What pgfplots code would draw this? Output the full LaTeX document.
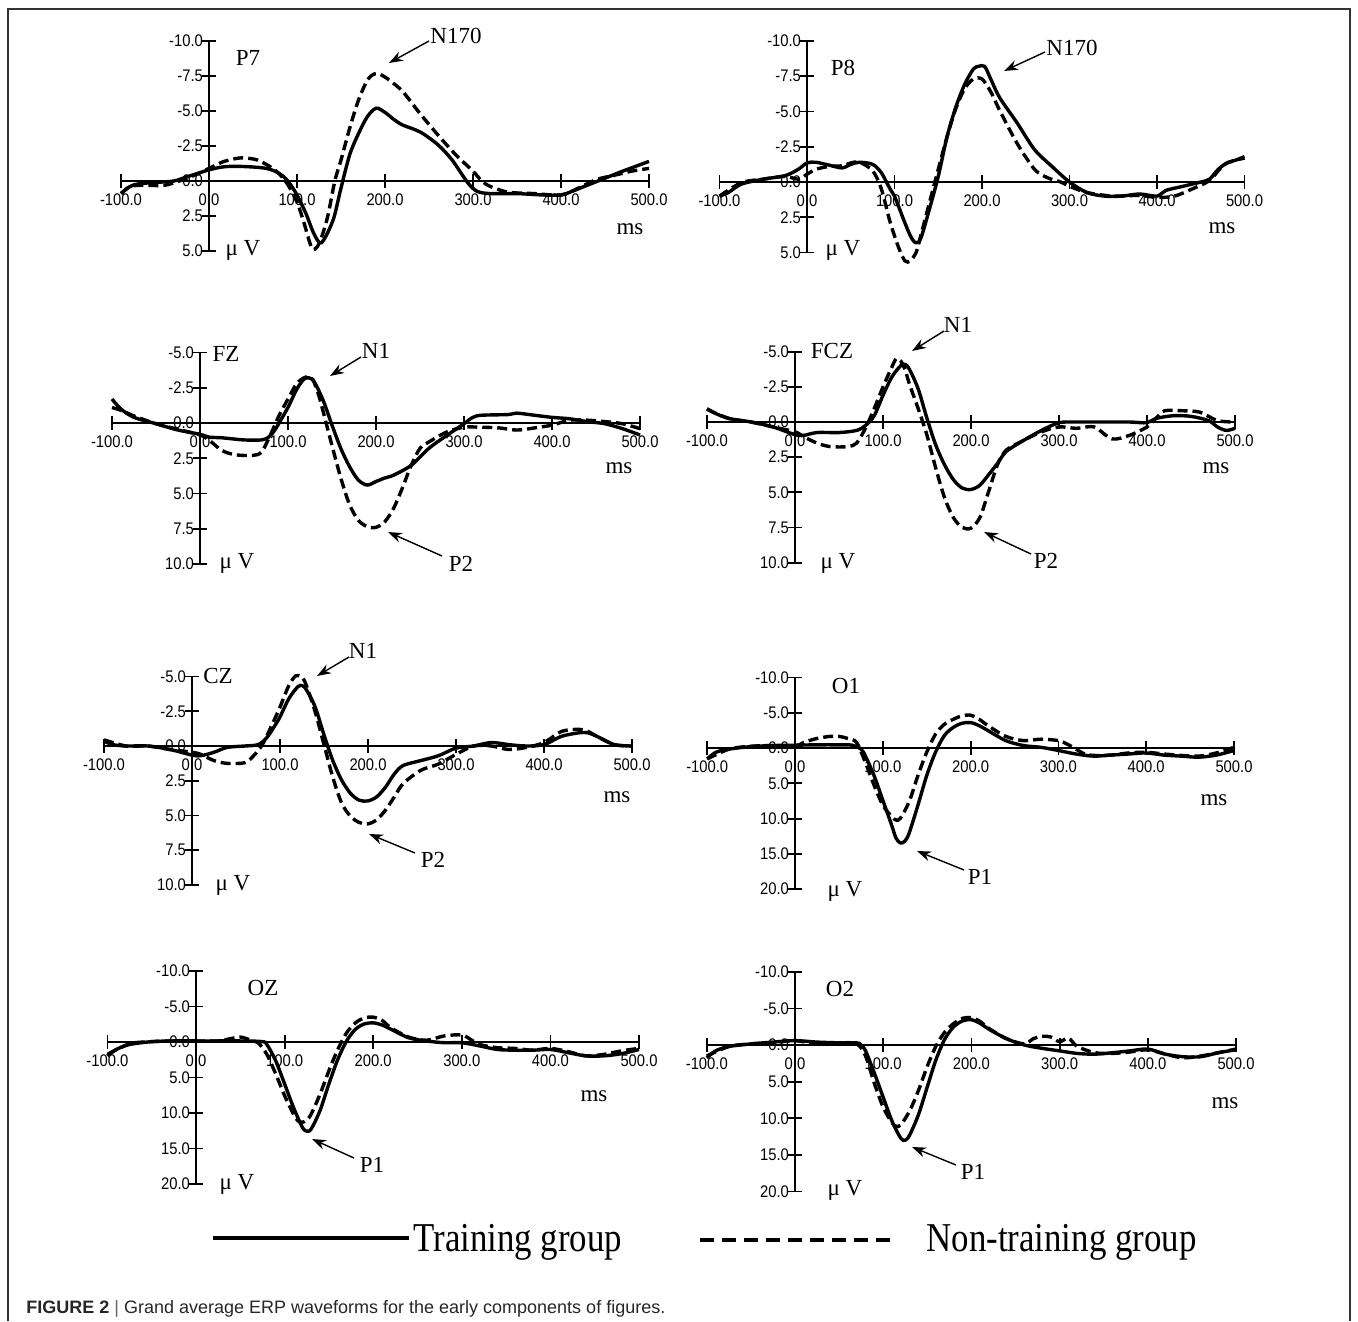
\documentclass[border=0pt]{standalone}
\usepackage{fontspec}
\setmainfont{Liberation Serif}
\setsansfont{Liberation Sans}
\newfontfamily\tickfont{Liberation Sans}[FakeStretch=0.88]
\usepackage{pgfplots}
\pgfplotsset{compat=1.18}
\usetikzlibrary{arrows.meta}

\pgfplotsset{
 erp/.style={
  axis lines=middle,
  axis line style={-, line width=1pt, black},
  anchor=origin,
  enlargelimits=false,
  clip=false,
  y dir=reverse,
  xmin=-100, xmax=500,
  xtick={-100,0,100,200,300,400,500},
  xticklabels={-100.0,0.0,100.0,200.0,300.0,400.0,500.0},
  hide obscured x ticks=false, hide obscured y ticks=false,
  tick align=center,
  major tick length=7pt,
  major tick style={line width=0.9pt, black},
  tick label style={font=\tickfont\fontsize{8.4}{9}\selectfont},
  xticklabel style={anchor=north, yshift=0.8pt},
  yticklabel style={anchor=east, xshift=4pt},
 },
 train/.style={black, line width=1.7pt, smooth},
 nontrain/.style={black, line width=1.7pt, smooth, dash pattern=on 5pt off 2.5pt},
 pA/.style={ymin=-10, ymax=5, ytick={-10,-7.5,-5,-2.5,0,2.5,5}, yticklabels={-10.0,-7.5,-5.0,-2.5,0.0,2.5,5.0}},
 pB/.style={ymin=-5, ymax=10, ytick={-5,-2.5,0,2.5,5,7.5,10}, yticklabels={-5.0,-2.5,0.0,2.5,5.0,7.5,10.0}},
 pC/.style={ymin=-10, ymax=20, ytick={-10,-5,0,5,10,15,20}, yticklabels={-10.0,-5.0,0.0,5.0,10.0,15.0,20.0}},
}

\begin{document}
\begin{tikzpicture}
\useasboundingbox (0,0) rectangle (679pt,-660.5pt);

% ---------------- P7 ----------------
\begin{axis}[erp, pA, at={(104.5pt,-90.5pt)}, x=0.44pt, y=7pt]
\addplot[train] table {
-100 0.9
-90 0.4
-80 0.2
-60 0.1
-40 0.0
-25 -0.3
-10 -0.6
0 -0.8
15 -1.0
30 -1.05
50 -1.0
65 -0.9
75 -0.7
85 -0.3
92 0.2
100 1.0
110 2.3
118 3.6
124 4.3
128 4.4
134 3.8
142 2.6
150 0.5
160 -1.9
170 -3.4
180 -4.6
190 -5.2
200 -4.9
210 -4.4
220 -4.0
240 -3.5
260 -2.6
275 -1.6
285 -0.7
295 0.2
305 0.75
320 0.9
350 0.9
380 1.0
400 1.0
410 0.8
430 0.3
450 -0.2
470 -0.7
500 -1.4
};
\addplot[nontrain] table {
-100 0.9
-90 0.4
-75 0.3
-50 0.3
-25 -0.2
-10 -0.6
0 -0.9
15 -1.35
30 -1.6
40 -1.65
55 -1.5
70 -1.0
80 -0.5
90 0.3
100 1.5
108 3.0
114 4.3
118 4.9
123 4.7
128 4.0
135 2.5
143 0.0
150 -1.5
160 -3.8
170 -5.8
180 -7.2
188 -7.65
195 -7.6
205 -7.2
220 -6.4
240 -4.8
260 -3.3
280 -1.9
300 -0.7
310 0.0
320 0.4
340 0.8
370 0.9
400 1.0
420 0.5
440 -0.1
460 -0.4
480 -0.7
500 -0.9
};
\end{axis}

% ---------------- P8 ----------------
\begin{axis}[erp, pA, at={(403.5pt,-91pt)}, x=0.4375pt, y=7.05pt]
\addplot[train] table {
-100 1.0
-90 0.75
-75 0.15
-50 -0.2
-25 -0.45
-10 -0.9
0 -1.35
10 -1.4
25 -1.2
40 -1.0
50 -1.25
60 -1.4
75 -1.25
85 -0.65
95 0.5
100 1.0
110 2.6
118 3.8
124 4.3
130 4.0
140 1.9
150 -0.4
160 -3.2
170 -5.3
180 -6.9
190 -8.0
196 -8.2
203 -8.2
210 -7.3
220 -6.0
240 -4.2
260 -2.3
280 -1.1
300 0.0
320 0.75
340 1.0
360 1.0
380 0.85
400 1.0
410 0.6
430 0.3
450 0.0
460 -0.2
470 -0.9
480 -1.35
490 -1.55
500 -1.8
};
\addplot[nontrain] table {
-100 1.0
-75 0.05
-50 -0.2
-25 -0.4
-10 -0.2
0 -0.55
10 -0.9
25 -1.1
40 -1.15
50 -1.35
60 -1.4
75 -0.8
85 0.5
95 2.85
105 4.7
112 5.6
118 5.6
125 4.95
130 3.8
140 1.45
150 -0.9
160 -3.2
170 -5.2
180 -6.6
190 -7.3
200 -7.3
210 -6.4
220 -5.1
240 -2.75
260 -0.9
275 -0.3
290 0.0
300 0.3
320 0.75
350 1.0
380 0.95
400 1.1
420 1.0
440 0.5
460 -0.1
470 -0.8
480 -1.35
500 -1.7
};
\end{axis}

% ---------------- FZ ----------------
\begin{axis}[erp, pB, at={(100pt,-211.5pt)}, x=0.44pt, y=7.05pt]
\addplot[train] table {
-100 -1.7
-90 -1.0
-75 -0.4
-50 0.05
-25 0.5
0 0.8
10 1.0
25 1.05
50 1.2
70 1.2
78 1.0
85 0.5
95 -0.55
100 -1.1
110 -2.4
118 -3.1
124 -3.2
130 -2.9
140 -1.6
150 0.15
160 1.8
170 3.1
180 4.05
190 4.4
200 4.15
210 3.9
220 3.7
240 3.0
260 1.8
280 0.9
300 0.05
310 -0.4
320 -0.55
350 -0.6
360 -0.7
380 -0.55
400 -0.4
420 -0.3
440 -0.1
460 0.05
480 0.4
500 0.85
};
\addplot[nontrain] table {
-100 -1.1
-90 -0.9
-75 -0.5
-50 0.05
-25 0.45
0 0.85
10 1.2
25 1.95
40 2.25
60 2.3
70 2.05
80 0.85
90 -0.55
100 -1.7
110 -2.8
120 -3.25
128 -3.1
135 -1.95
140 -0.8
150 1.6
160 3.9
170 5.8
180 6.9
190 7.35
200 7.4
210 7.0
220 6.05
230 4.6
240 3.0
250 1.8
260 1.35
280 0.65
300 0.3
320 0.3
340 0.35
360 0.5
380 0.35
400 0.15
420 -0.2
440 -0.2
460 -0.1
480 0.05
500 0.4
};
\end{axis}

% ---------------- FCZ ----------------
\begin{axis}[erp, pB, at={(397.5pt,-211pt)}, x=0.44pt, y=7.03pt]
\addplot[train] table {
-100 -0.95
-90 -0.6
-75 -0.25
-50 0.0
-25 0.35
0 0.9
10 0.95
25 0.75
50 0.75
70 0.6
80 0.25
90 -0.45
100 -1.9
110 -3.2
120 -4.0
125 -4.1
130 -3.75
140 -2.35
150 -0.25
160 1.65
170 3.05
180 4.1
190 4.7
200 4.8
210 4.5
220 3.75
230 2.95
240 2.1
260 1.3
280 0.6
300 0.05
320 0.0
350 0.0
380 0.0
400 0.05
410 -0.25
430 -0.45
450 -0.4
470 -0.1
480 0.35
490 0.6
500 0.45
};
\addplot[nontrain] table {
-100 -0.9
-75 -0.25
-50 0.0
-25 0.35
0 0.7
10 1.05
25 1.5
40 1.75
60 1.75
70 1.5
80 0.45
90 -0.95
100 -2.5
110 -3.9
115 -4.5
120 -4.35
125 -3.75
130 -2.7
140 -0.95
150 0.95
160 3.3
170 5.4
180 6.8
190 7.5
200 7.55
210 6.8
220 4.95
230 3.05
240 2.0
260 1.3
280 0.7
300 0.35
320 0.45
340 0.35
360 1.2
380 0.95
400 0.35
410 -0.25
420 -0.8
440 -0.8
460 -0.7
480 -0.1
500 0.0
};
\end{axis}

% ---------------- CZ ----------------
\begin{axis}[erp, pB, at={(96pt,-373pt)}, x=0.44pt, y=6.95pt]
\addplot[train] table {
-100 -0.35
-90 -0.1
-75 0.0
-50 0.0
-25 0.25
0 0.65
10 0.7
25 0.45
40 0.1
60 0.0
75 -0.1
85 -0.6
95 -1.55
100 -2.1
110 -3.4
120 -4.25
125 -4.35
130 -4.05
140 -2.8
150 -0.8
160 1.05
170 2.45
180 3.4
190 3.9
200 3.95
210 3.65
220 2.95
230 2.0
240 1.4
260 1.05
280 0.7
300 0.15
320 0.0
340 -0.25
360 -0.1
380 0.0
400 -0.1
420 -0.7
440 -0.95
450 -0.95
460 -0.7
480 -0.1
500 0.0
};
\addplot[nontrain] table {
-100 -0.45
-75 0.0
-50 0.0
-25 0.25
0 0.45
10 0.6
25 1.05
40 1.25
60 1.2
70 0.7
80 -0.1
90 -1.4
100 -2.8
110 -4.35
118 -5.05
125 -4.95
130 -4.35
140 -2.45
150 -0.1
160 2.25
170 4.1
180 5.05
190 5.5
200 5.6
210 5.3
220 4.6
230 3.65
240 2.7
260 1.75
280 1.3
300 0.6
320 0.0
340 0.0
360 0.25
380 0.1
400 -0.25
420 -1.05
440 -1.2
450 -1.05
460 -0.7
480 -0.1
500 0.0
};
\end{axis}

% ---------------- O1 ----------------
\begin{axis}[erp, pC, at={(397.5pt,-374pt)}, x=0.439pt, y=3.53pt]
\addplot[train] table {
-100 1.55
-90 0.6
-75 0.15
-50 -0.2
-25 -0.35
0 -0.4
25 -0.45
50 -0.45
65 -0.4
75 0.15
80 1.1
90 3.9
100 7.4
110 10.9
115 12.75
120 13.45
125 13.2
130 12.05
140 8.1
150 3.9
160 0.6
170 -1.75
180 -2.9
190 -3.5
200 -3.6
210 -3.15
220 -2.45
240 -1.05
260 -0.35
280 -0.1
300 0.35
320 0.85
340 1.15
360 1.0
380 0.85
400 0.7
420 1.0
440 1.15
460 1.3
480 1.0
500 0.35
};
\addplot[nontrain] table {
-100 1.55
-75 0.15
-50 -0.25
-25 -0.35
0 -0.25
10 -0.8
25 -1.35
40 -1.65
50 -1.65
60 -1.35
70 -0.8
80 2.0
90 5.25
100 8.1
110 9.7
115 10.2
120 9.95
130 7.6
140 3.9
150 0.6
160 -1.95
170 -3.35
180 -4.05
190 -4.55
200 -4.65
210 -4.05
220 -3.15
240 -1.65
260 -1.05
280 -1.25
300 -1.05
310 -0.55
320 0.15
330 0.85
340 1.05
360 1.0
380 0.7
400 0.6
420 0.85
440 1.05
460 1.15
480 0.7
500 -0.1
};
\end{axis}

% ---------------- OZ ----------------
\begin{axis}[erp, pC, at={(98pt,-521pt)}, x=0.443pt, y=3.55pt]
\addplot[train] table {
-100 1.95
-90 1.05
-75 0.35
-50 -0.05
-25 -0.15
0 -0.15
25 -0.15
50 -0.15
75 -0.05
80 0.35
90 2.65
100 5.9
110 9.2
120 12.0
125 12.55
130 12.25
140 9.65
150 5.9
160 2.45
170 -0.15
180 -1.8
190 -2.55
200 -2.7
210 -2.4
220 -1.8
240 -0.6
260 -0.15
280 0.1
300 0.1
320 0.55
340 1.05
360 1.15
380 1.15
400 1.05
420 1.5
440 1.95
460 1.95
480 1.65
500 1.05
};
\addplot[nontrain] table {
-100 1.75
-75 0.25
-50 -0.05
-25 -0.15
0 -0.15
25 -0.15
40 -0.5
50 -0.7
60 -0.35
70 0.1
80 1.75
90 4.5
100 7.55
110 10.15
115 11.1
120 11.3
125 11.0
130 10.15
140 7.35
150 4.05
160 1.05
170 -1.3
180 -2.7
190 -3.4
200 -3.5
210 -3.05
220 -2.0
240 -0.7
260 -0.25
280 -0.85
300 -1.0
310 -0.35
320 0.35
340 0.8
360 0.9
380 1.15
400 0.9
420 1.35
440 1.95
460 1.75
480 1.25
500 0.9
};
\end{axis}

% ---------------- O2 ----------------
\begin{axis}[erp, pC, at={(397.5pt,-522.5pt)}, x=0.441pt, y=3.66pt]
\addplot[train] table {
-100 1.75
-90 0.8
-75 0.2
-50 -0.15
-25 -0.4
0 -0.6
25 -0.4
50 -0.3
70 -0.3
75 0.0
80 0.8
90 3.85
100 7.15
110 10.4
120 12.75
125 13.0
130 12.3
140 9.5
150 5.7
160 1.95
170 -0.85
180 -2.5
190 -3.3
200 -3.45
210 -2.95
220 -2.15
240 -0.85
260 0.0
280 0.45
300 0.8
320 1.15
340 1.25
360 1.05
380 0.8
400 0.55
420 1.25
440 1.6
460 1.6
480 1.05
500 0.65
};
\addplot[nontrain] table {
-100 1.5
-75 0.2
-50 -0.15
-25 -0.3
0 -0.6
25 -0.15
50 -0.3
70 -0.15
80 1.5
90 5.25
100 8.5
110 10.65
115 11.1
120 10.9
130 9.0
140 6.2
150 2.9
160 0.1
170 -1.8
180 -2.95
190 -3.65
200 -3.75
210 -3.2
220 -2.25
240 -0.85
260 -0.15
270 -0.85
280 -1.2
290 -1.1
300 -0.45
310 -0.95
320 0.2
340 1.05
360 1.15
380 0.95
400 0.65
420 1.25
440 1.75
460 1.5
480 1.05
500 0.55
};
\end{axis}

% ---------------- annotations (pixel units) ----------------
\begin{scope}[x=0.5pt, y=-0.5pt]
\draw[line width=0.6pt, color=black!80] (8,1321) -- (8,9) -- (1350,9) -- (1350,1321);

\tikzset{lab/.style={font=\fontsize{11.5}{13}\selectfont, inner sep=0pt},
         arr/.style={line width=0.7pt, -{Stealth[length=7pt, width=5pt]}}}
% P7
\node[lab] at (248,58) {P7};
\node[lab] at (243,250) {μ V};
\node[lab] at (630,229) {ms};
\node[lab] at (456,36) {N170};
\draw[arr] (429,41) -- (389,63);
% P8
\node[lab] at (843,68) {P8};
\node[lab] at (843,250) {μ V};
\node[lab] at (1222,228) {ms};
\node[lab] at (1072,48) {N170};
\draw[arr] (1045,52) -- (1004,71);
% FZ
\node[lab] at (226,354) {FZ};
\node[lab] at (237,563) {μ V};
\node[lab] at (619,468) {ms};
\node[lab] at (376,351) {N1};
\draw[arr] (361,357) -- (330,376);
\node[lab] at (461,564) {P2};
\draw[arr] (442,556) -- (388,532);
% FCZ
\node[lab] at (832,351) {FCZ};
\node[lab] at (838,563) {μ V};
\node[lab] at (1216,468) {ms};
\node[lab] at (958,325) {N1};
\draw[arr] (944,331) -- (912,351);
\node[lab] at (1046,561) {P2};
\draw[arr] (1031,554) -- (984,532);
% CZ
\node[lab] at (218,676) {CZ};
\node[lab] at (233,885) {μ V};
\node[lab] at (617,797) {ms};
\node[lab] at (363,651) {N1};
\draw[arr] (349,657) -- (317,676);
\node[lab] at (433,860) {P2};
\draw[arr] (415,853) -- (369,834);
% O1
\node[lab] at (846,686) {O1};
\node[lab] at (845,891) {μ V};
\node[lab] at (1214,800) {ms};
\node[lab] at (980,877) {P1};
\draw[arr] (964,870) -- (917,851);
% OZ
\node[lab] at (263,988) {OZ};
\node[lab] at (237,1184) {μ V};
\node[lab] at (594,1096) {ms};
\node[lab] at (372,1165) {P1};
\draw[arr] (354,1158) -- (312,1139);
% O2
\node[lab] at (840,989) {O2};
\node[lab] at (845,1190) {μ V};
\node[lab] at (1225,1103) {ms};
\node[lab] at (973,1172) {P1};
\draw[arr] (956,1165) -- (912,1147);

% legend
\draw[line width=2pt] (213,1238) -- (409,1238);
\node[anchor=base west, inner sep=0pt, font=\fontsize{20.5}{24}\selectfont] at (413,1251) {\scalebox{0.85}[1]{Training group}};
\draw[line width=2pt, dash pattern=on 7pt off 4pt] (700,1240) -- (895,1240);
\node[anchor=base west, inner sep=0pt, font=\fontsize{20.5}{24}\selectfont] at (926,1251) {\scalebox{0.85}[1]{Non-training group}};

% caption
\node[anchor=base west, inner sep=0pt, font=\sffamily\fontsize{9}{11}\selectfont, text=black!85] at (26,1313) {\textbf{FIGURE 2} {\color{black!60}|} Grand average ERP waveforms for the early components of figures.};
\end{scope}
\end{tikzpicture}
\end{document}
